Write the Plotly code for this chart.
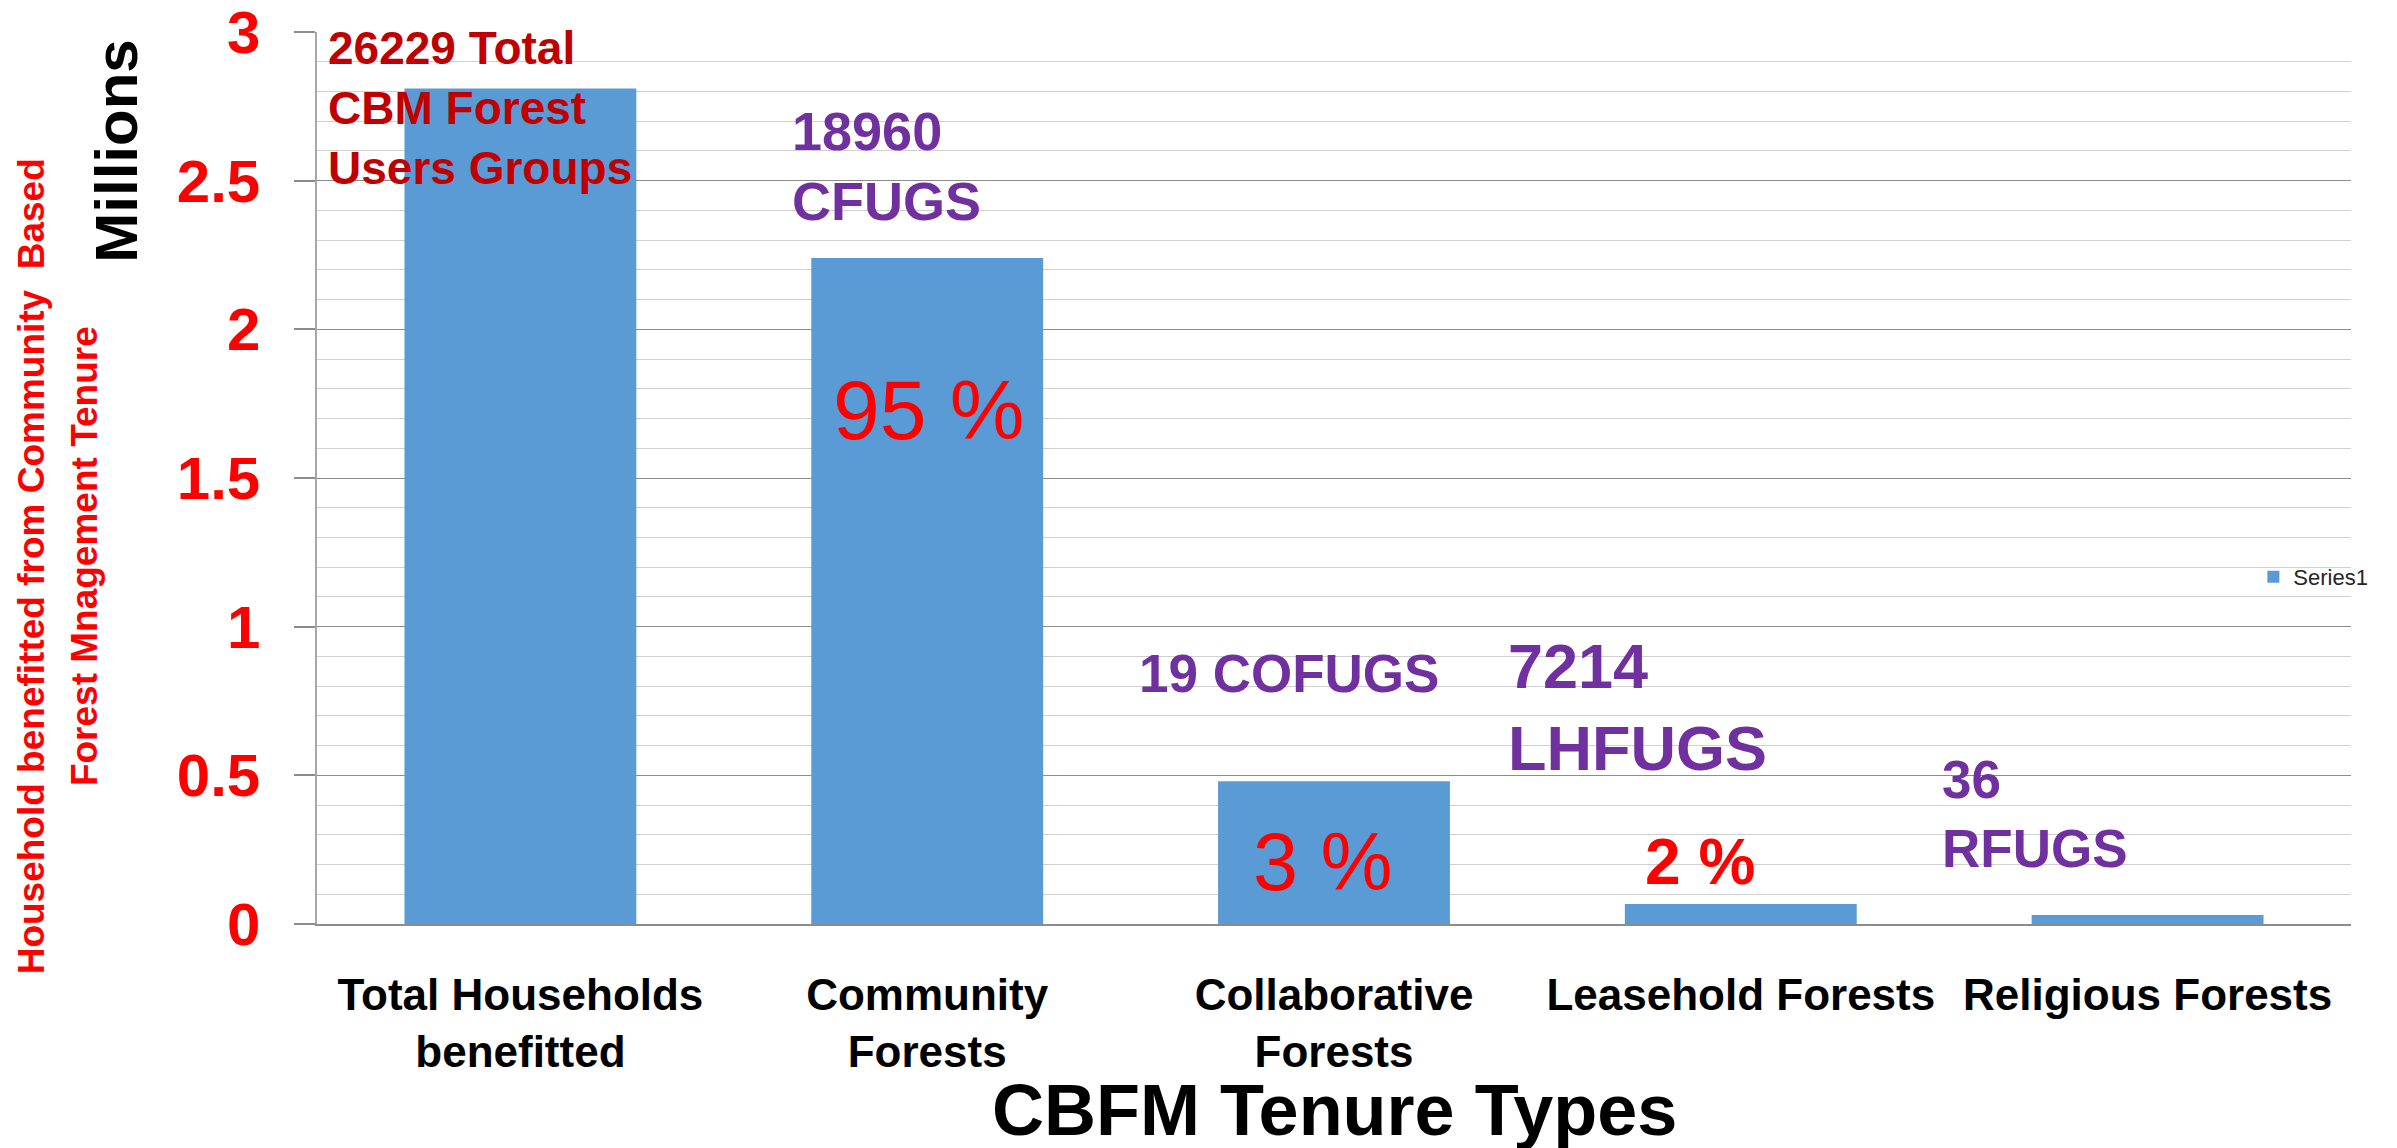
import plotly.graph_objects as go

# ---- data ----
categories = ["Total Households benefitted", "Community Forests", "Collaborative Forests",
              "Leasehold Forests", "Religious Forests"]
tick_labels = ["Total Households<br>benefitted", "Community<br>Forests", "Collaborative<br>Forests",
               "Leasehold Forests", "Religious Forests"]
households_millions = [2.81, 2.24, 0.48, 0.067, 0.030]
y_tick_values = [0, 0.5, 1, 1.5, 2, 2.5, 3]
y_tick_labels = ["0", "0.5", "1", "1.5", "2", "2.5", "3"]
series_name = "Series1"

FONT = "Liberation Sans, Arial, sans-serif"
BAR = "#5B9BD5"
PURPLE = "#7030A0"
DARKRED = "#C00000"
RED = "#FF0000"

fig = go.Figure()
fig.add_trace(go.Bar(
    x=list(range(len(categories))), y=households_millions, name=series_name,
    marker=dict(color=BAR, line=dict(width=0)),
    hovertext=categories, showlegend=True,
))

W, H = 2397, 1148
L, R, T, B = 317, 46, 32, 224

fig.update_layout(
    width=W, height=H, autosize=False,
    margin=dict(l=L, r=R, t=T, b=B, pad=0),
    paper_bgcolor="white", plot_bgcolor="white",
    bargap=0.43,
    font=dict(family=FONT),
    showlegend=True,
    legend=dict(x=0.952, y=0.389, xanchor="left", yanchor="middle",
                font=dict(size=22, color="#262626", family=FONT),
                bgcolor="rgba(0,0,0,0)", itemwidth=30),
)

fig.update_xaxes(
    range=[-0.5, len(categories) - 0.5],
    tickmode="array", tickvals=list(range(len(categories))), ticktext=tick_labels,
    tickfont=dict(size=44, color="black", family=FONT, weight="bold"),
    ticks="", ticklabelstandoff=31,
    showline=True, linecolor="#8C8C8C", linewidth=1.5,
    showgrid=False, zeroline=False, automargin=False, fixedrange=True,
)
fig.update_yaxes(
    range=[0, 3],
    tickmode="array", tickvals=y_tick_values, ticktext=y_tick_labels,
    tickfont=dict(size=60, color=RED, family=FONT, weight="bold"),
    ticks="outside", ticklen=21, tickwidth=1.5, tickcolor="#8C8C8C",
    ticklabelstandoff=22, ticklabeloverflow="allow",
    showline=True, linecolor="#A6A6A6", linewidth=1.5,
    showgrid=True, gridcolor="#8C8C8C", gridwidth=1.3,
    minor=dict(dtick=0.1, showgrid=True, gridcolor="#D0D0D0", gridwidth=1.3, ticks=""),
    zeroline=False, automargin=False, fixedrange=True,
)

ann = []
# group counts
ann.append(dict(x=-0.478, y=2.745, xref="x", yref="y", text="26229 Total<br>CBM Forest<br>Users Groups",
                xanchor="left", yanchor="middle", align="left", showarrow=False,
                font=dict(size=46, color=DARKRED, family=FONT, weight="bold")))
ann.append(dict(x=0.662, y=2.55, xref="x", yref="y", text="18960<br>CFUGS",
                xanchor="left", yanchor="middle", align="left", showarrow=False,
                font=dict(size=54, color=PURPLE, family=FONT, weight="bold")))
ann.append(dict(x=1.889, y=0.841, xref="x", yref="y", text="19 COFUGS",
                xanchor="center", yanchor="middle", showarrow=False,
                font=dict(size=53, color=PURPLE, family=FONT, weight="bold")))
ann.append(dict(x=2.423, y=0.73, xref="x", yref="y", text="7214<br>LHFUGS",
                xanchor="left", yanchor="middle", align="left", showarrow=False,
                font=dict(size=63, color=PURPLE, family=FONT, weight="bold")))
ann.append(dict(x=3.49, y=0.37, xref="x", yref="y", text="36<br>RFUGS",
                xanchor="left", yanchor="middle", align="left", showarrow=False,
                font=dict(size=53, color=PURPLE, family=FONT, weight="bold")))
# percentages
ann.append(dict(x=1.002, y=1.729, xref="x", yref="y", text="95 %",
                xanchor="center", yanchor="middle", showarrow=False,
                font=dict(size=84, color=RED, family=FONT)))
ann.append(dict(x=1.973, y=0.21, xref="x", yref="y", text="3 %",
                xanchor="center", yanchor="middle", showarrow=False,
                font=dict(size=81, color=RED, family=FONT)))
ann.append(dict(x=2.90, y=0.207, xref="x", yref="y", text="2 %",
                xanchor="center", yanchor="middle", showarrow=False,
                font=dict(size=64, color=RED, family=FONT, weight="bold")))
# axis titles
ann.append(dict(x=0.5, y=-0.2085, xref="paper", yref="paper", text="CBFM Tenure Types",
                xanchor="center", yanchor="middle", showarrow=False,
                font=dict(size=72, color="black", family=FONT, weight="bold")))
ann.append(dict(x=-0.0985, y=0.8666, xref="paper", yref="paper", text="Millions", textangle=-90,
                xanchor="center", yanchor="middle", showarrow=False,
                font=dict(size=60, color="black", family=FONT, weight="bold")))
ann.append(dict(x=-0.1406, y=0.401, xref="paper", yref="paper",
                text="Household benefitted from Community\u00a0\u00a0Based", textangle=-90,
                xanchor="center", yanchor="middle", showarrow=False,
                font=dict(size=37, color=RED, family=FONT, weight="bold")))
ann.append(dict(x=-0.114, y=0.4126, xref="paper", yref="paper",
                text="Forest Mnagement Tenure", textangle=-90,
                xanchor="center", yanchor="middle", showarrow=False,
                font=dict(size=37, color=RED, family=FONT, weight="bold")))
fig.update_layout(annotations=ann)

fig.write_html("out.html", config={"displayModeBar": False},
               post_script="document.body.style.margin='0';document.body.style.overflow='hidden';")
